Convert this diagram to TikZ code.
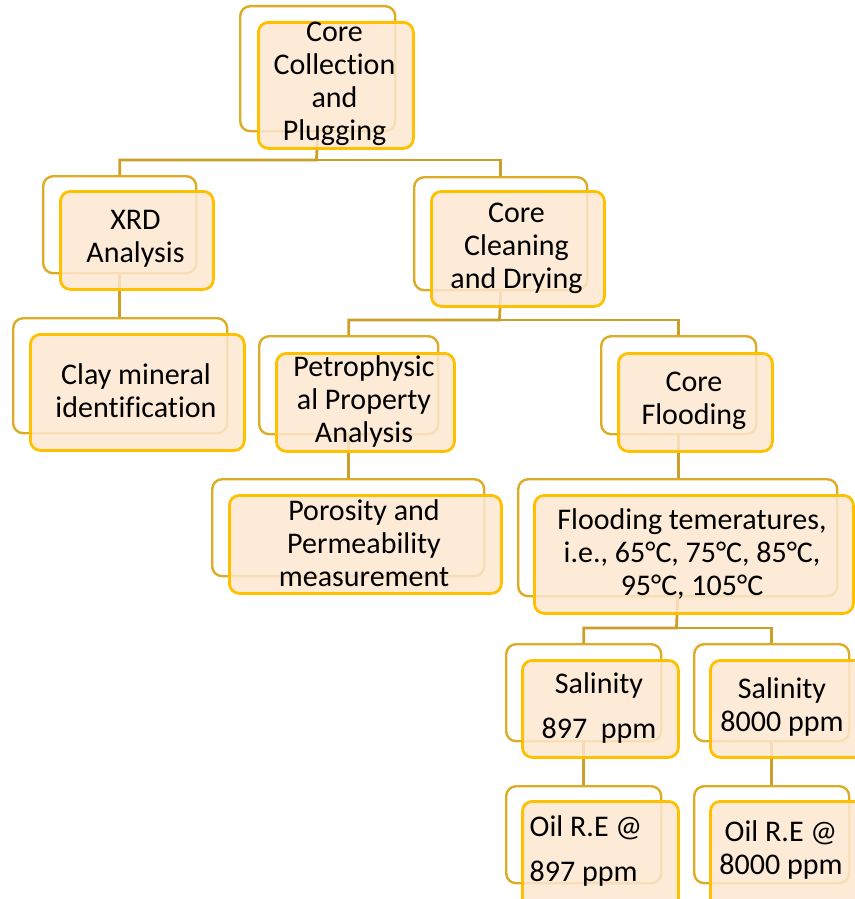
\documentclass[tikz,border=0pt]{standalone}
\usepackage{fontspec}
\setmainfont{Carlito}[Ligatures={NoCommon,NoContextual},Contextuals=NoAlternate]
\definecolor{backgold}{RGB}{220,172,38}
\definecolor{frontgold}{RGB}{255,192,0}
\definecolor{linegold}{RGB}{204,160,40}
\definecolor{peach}{RGB}{253,231,208}
\tikzset{
  backbox/.style={draw=backgold, line width=2.4pt, rounded corners=10pt, fill=white, inner sep=0pt, anchor=north west},
  frontbox/.style={draw=frontgold, line width=2.8pt, rounded corners=10pt, fill=peach, fill opacity=0.85, inner sep=0pt, anchor=north west},
  lbl/.style={align=center, font=\fontsize{30}{33}\selectfont, text=black, inner sep=0pt},
  conn/.style={draw=linegold, line width=2.8pt}
}
\begin{document}
\begin{tikzpicture}[x=1pt,y=-1pt]
\useasboundingbox (0,0) rectangle (854,899);
% back boxes
\node[backbox, minimum width=155pt, minimum height=125pt] (A) at (239,5) {};
\node[backbox, minimum width=153pt, minimum height=97pt] (B) at (42,175) {};
\node[backbox, minimum width=214pt, minimum height=115pt] (C) at (12,317) {};
\node[backbox, minimum width=173pt, minimum height=113pt] (D) at (413,176) {};
\node[backbox, minimum width=179pt, minimum height=98pt] (E) at (258,335) {};
\node[backbox, minimum width=155pt, minimum height=98pt] (F) at (600,335) {};
\node[backbox, minimum width=272pt, minimum height=97pt] (G) at (211,478) {};
\node[backbox, minimum width=319pt, minimum height=117pt] (H) at (517,478) {};
\node[backbox, minimum width=155pt, minimum height=97pt] (I) at (505,643) {};
\node[backbox, minimum width=155pt, minimum height=97pt] (J) at (693,643) {};
\node[backbox, minimum width=155pt, minimum height=97pt] (K) at (505,785) {};
\node[backbox, minimum width=155pt, minimum height=97pt] (L) at (693,785) {};
% connectors
\coordinate (hA) at (316.5,160);
\coordinate (hD) at (499.5,320);
\coordinate (hH) at (676.5,628);
\draw[conn] (A.south) -- (hA) -| (B.north);
\draw[conn] (hA) -| (D.north);
\draw[conn] (B.south) -- (B.south |- C.north);
\draw[conn] (D.south) -- (hD) -| (E.north);
\draw[conn] (hD) -| (F.north);
\draw[conn] (E.south) -- (E.south |- G.north);
\draw[conn] (F.south) -- (F.south |- H.north);
\draw[conn] (H.south) -- (hH) -| (I.north);
\draw[conn] (hH) -| (J.north);
\draw[conn] (I.south) -- (K.north);
\draw[conn] (J.south) -- (L.north);
% front boxes
\node[frontbox, minimum width=155pt, minimum height=126pt] (Af) at (257,21) {};
\node[frontbox, minimum width=153pt, minimum height=98pt] (Bf) at (59,190) {};
\node[frontbox, minimum width=214pt, minimum height=116pt] (Cf) at (29,333) {};
\node[frontbox, minimum width=173pt, minimum height=115pt] (Df) at (430,190) {};
\node[frontbox, minimum width=178pt, minimum height=98pt] (Ef) at (275,352) {};
\node[frontbox, minimum width=154pt, minimum height=98pt] (Ff) at (617,352) {};
\node[frontbox, minimum width=272pt, minimum height=98pt] (Gf) at (228,494) {};
\node[frontbox, minimum width=319pt, minimum height=118pt] (Hf) at (533,494) {};
\node[frontbox, minimum width=156pt, minimum height=97pt] (If) at (521,659) {};
\node[frontbox, minimum width=156pt, minimum height=97pt] (Jf) at (709,659) {};
\node[frontbox, minimum width=156pt, minimum height=110pt] (Kf) at (521,800) {};
\node[frontbox, minimum width=156pt, minimum height=110pt] (Lf) at (709,800) {};
% labels
\node[lbl] (At) at (334.5,84) {Core\\Collect\kern0pt ion\\and\\Plugging};
\node[lbl] (Bt) at (135.5,239) {XRD\\Analysis};
\node[lbl] (Ct) at (136,391) {Clay mineral\\ident\kern0pt ificat\kern0pt ion};
\node[lbl] (Dt) at (516.5,248) {Core\\Cleaning\\and Drying};
\node[lbl] (Et) at (364,401) {Petrophysic\\al Property\\Analysis};
\node[lbl] (Ft) at (694,401) {Core\\Flooding};
\node[lbl] (Gt) at (364,543) {Porosity and\\Permeability\\measurement};
\node[lbl] (Ht) at (692,554) {Flooding temeratures,\\i.e., 65°C, 75°C, 85°C,\\95°C, 105°C};
\node[lbl] (It) at (599,708) {Salinity\\[12pt]897~ ppm};
\node[lbl] (Jt) at (782,707) {Salinity\\8000 ppm};
\node[lbl, align=left] (Kt) at (586,851) {Oil R.E @\\[12pt]897 ppm};
\node[lbl] (Lt) at (781,850) {Oil R.E @\\8000 ppm};
\end{tikzpicture}
\end{document}
